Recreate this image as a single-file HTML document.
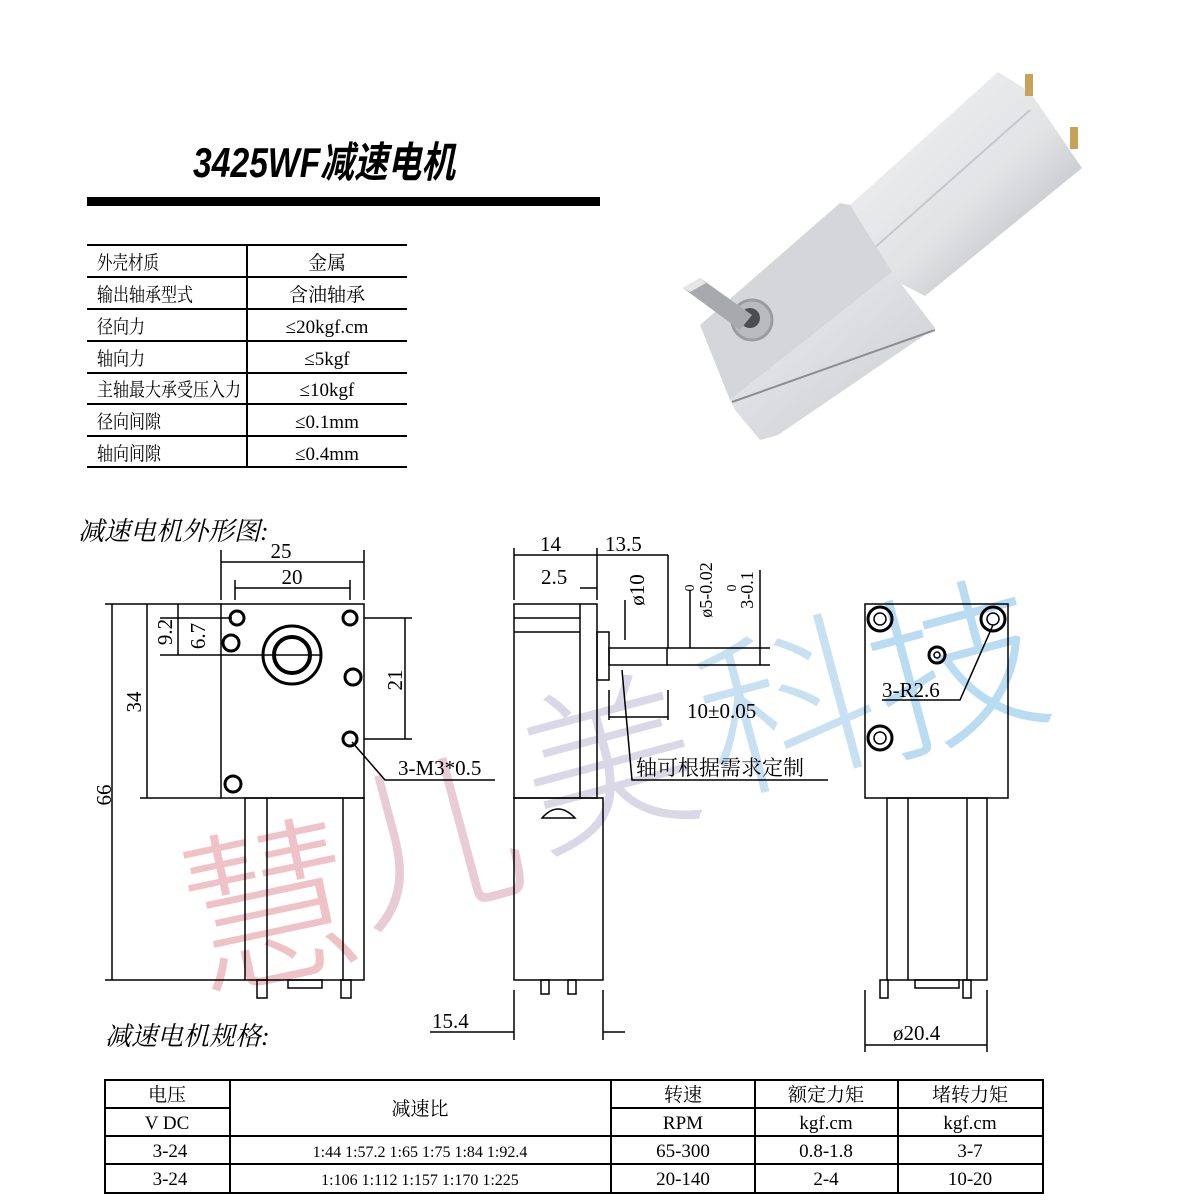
<!DOCTYPE html>
<html><head><meta charset="utf-8"><style>
html,body{margin:0;padding:0;background:#fff;}
body{width:1200px;height:1200px;position:relative;overflow:hidden;font-family:"Liberation Serif","Noto Serif CJK SC",serif;}
</style></head><body>
<svg width="1200" height="1200" viewBox="0 0 1200 1200" style="position:absolute;left:0;top:0" font-family="Liberation Serif, Noto Serif CJK SC, serif">
<defs>
<linearGradient id="cyl" x1="0" y1="0" x2="1" y2="1">
<stop offset="0" stop-color="#f3f3f4"/><stop offset="0.55" stop-color="#e2e3e5"/><stop offset="0.8" stop-color="#c2c4c7"/><stop offset="1" stop-color="#e8e9ea"/>
</linearGradient>
<linearGradient id="side" x1="0" y1="0" x2="1" y2="1">
<stop offset="0" stop-color="#eceef0"/><stop offset="1" stop-color="#c9cbce"/>
</linearGradient>
</defs>
<!-- title -->
<text x="193" y="177" font-size="42" font-style="italic" font-weight="bold" font-family="Liberation Sans Narrow, Liberation Sans, Noto Sans CJK SC, sans-serif" textLength="262" lengthAdjust="spacingAndGlyphs">3425WF减速电机</text>
<rect x="87" y="197" width="513" height="9" fill="#000"/>
<!-- spec table -->
<g stroke="#000" stroke-width="2">
<line x1="87" y1="245" x2="407" y2="245"/><line x1="87" y1="277" x2="407" y2="277"/>
<line x1="87" y1="309" x2="407" y2="309"/><line x1="87" y1="341" x2="407" y2="341"/>
<line x1="87" y1="373" x2="407" y2="373"/><line x1="87" y1="404" x2="407" y2="404"/>
<line x1="87" y1="436" x2="407" y2="436"/><line x1="87" y1="467" x2="407" y2="467"/>
<line x1="247" y1="245" x2="247" y2="467"/>
</g>
<g font-size="19">
<text x="97" y="269" textLength="62" lengthAdjust="spacingAndGlyphs">外壳材质</text>
<text x="97" y="301" textLength="96" lengthAdjust="spacingAndGlyphs">输出轴承型式</text>
<text x="97" y="333" textLength="48" lengthAdjust="spacingAndGlyphs">径向力</text>
<text x="97" y="365" textLength="48" lengthAdjust="spacingAndGlyphs">轴向力</text>
<text x="97" y="396" textLength="144" lengthAdjust="spacingAndGlyphs">主轴最大承受压入力</text>
<text x="97" y="428" textLength="64" lengthAdjust="spacingAndGlyphs">径向间隙</text>
<text x="97" y="460" textLength="64" lengthAdjust="spacingAndGlyphs">轴向间隙</text>
<g text-anchor="middle"><text x="327" y="269">金属</text><text x="327" y="301">含油轴承</text><text x="327" y="333">≤20kgf.cm</text>
<text x="327" y="365">≤5kgf</text><text x="327" y="396">≤10kgf</text><text x="327" y="428">≤0.1mm</text><text x="327" y="460">≤0.4mm</text></g>
</g>
<!-- photo -->
<g>
<polygon points="850,205 998,72 1030,92 1082,168 925,296 870,268" fill="url(#cyl)"/>
<line x1="872" y1="250" x2="1030" y2="110" stroke="#c5c7ca" stroke-width="2"/>
<rect x="1025" y="74" width="8" height="22" fill="#c9a25a"/><rect x="1070" y="127" width="8" height="22" fill="#c9a25a"/>
<polygon points="700,325 840,203 850,205 892,272 730,400" fill="#d4d6d9"/>
<polygon points="730,400 892,272 935,328 778,435 760,440 735,410" fill="url(#side)"/>
<line x1="732" y1="402" x2="935" y2="330" stroke="#8a8d91" stroke-width="2"/>
<circle cx="752" cy="320" r="20" fill="#b9bbbf" stroke="#9a9ca0" stroke-width="3"/>
<circle cx="750" cy="318" r="10" fill="#4b4d50"/>
<polygon points="683,288 700,278 752,315 740,330" fill="#a7a9ad"/>
<polygon points="683,288 700,278 706,283 690,292" fill="#e6e6e6"/>
</g>
<!-- watermark -->
<g opacity="0.6" font-family="Noto Sans CJK SC, sans-serif" font-weight="300" font-size="175">
<text x="180" y="975" fill="#e39aa2" transform="rotate(-12 250 900)">慧</text>
<text x="340" y="905" fill="#d9a9b9" transform="rotate(-15 420 820)">儿</text>
<text x="520" y="830" fill="#c2bcd8" transform="rotate(-15 600 760)">美</text>
<text x="695" y="775" fill="#a2cbe9" transform="rotate(-15 770 690)">科</text>
<text x="865" y="735" fill="#8cc5ec" transform="rotate(-15 940 650)">技</text>
</g>
<text x="78" y="540" font-size="26" font-style="italic">减速电机外形图:</text>
<text x="105" y="1045" font-size="26" font-style="italic">减速电机规格:</text>
<g fill="none" stroke="#000" stroke-width="1.5">
<!-- front view -->
<rect x="221" y="604" width="143" height="194"/>
<rect x="245" y="798" width="119" height="182"/>
<line x1="267" y1="798" x2="267" y2="980"/><line x1="343" y1="798" x2="343" y2="980"/>
<circle cx="292" cy="655" r="29" stroke-width="3"/><circle cx="292" cy="655" r="18" stroke-width="4"/>
<circle cx="237" cy="618" r="7" stroke-width="3"/><circle cx="350" cy="618" r="7" stroke-width="3"/>
<circle cx="231" cy="643" r="8" stroke-width="3"/><circle cx="353" cy="677" r="8" stroke-width="3"/>
<circle cx="350" cy="739" r="7" stroke-width="3"/><circle cx="233" cy="784" r="8" stroke-width="3"/>
<rect x="257" y="980" width="10" height="18"/><rect x="341" y="980" width="10" height="18"/>
<rect x="288" y="980" width="34" height="8"/>
<line x1="221" y1="600" x2="221" y2="550"/><line x1="364" y1="600" x2="364" y2="550"/>
<line x1="221" y1="562" x2="364" y2="562"/>
<line x1="235" y1="600" x2="235" y2="580"/><line x1="350" y1="600" x2="350" y2="580"/>
<line x1="235" y1="588" x2="350" y2="588"/>
<line x1="105" y1="604" x2="221" y2="604"/><line x1="105" y1="980" x2="245" y2="980"/>
<line x1="112" y1="604" x2="112" y2="980"/>
<line x1="140" y1="798" x2="221" y2="798"/><line x1="147" y1="604" x2="147" y2="798"/>
<line x1="160" y1="618" x2="232" y2="618"/><line x1="160" y1="655" x2="320" y2="655"/>
<line x1="178" y1="604" x2="178" y2="655"/>
<line x1="364" y1="618" x2="412" y2="618"/><line x1="364" y1="739" x2="412" y2="739"/>
<line x1="405" y1="618" x2="405" y2="739"/>
<polyline points="352,742 385,780 495,780"/>
<!-- side view -->
<rect x="514" y="604" width="83" height="194"/>
<line x1="514" y1="618" x2="580" y2="618"/><line x1="514" y1="632" x2="580" y2="632"/>
<line x1="580" y1="604" x2="580" y2="798"/>
<rect x="597" y="632" width="12" height="48"/>
<rect x="609" y="648" width="58" height="17"/>
<rect x="514" y="798" width="89" height="182"/>
<path d="M542 818 Q558 800 575 818 Z"/>
<rect x="541" y="980" width="8" height="14"/><rect x="568" y="980" width="8" height="14"/>
<line x1="514" y1="600" x2="514" y2="548"/><line x1="597" y1="600" x2="597" y2="548"/>
<line x1="514" y1="555" x2="668" y2="555"/><line x1="580" y1="588" x2="597" y2="588"/>
<line x1="625" y1="600" x2="625" y2="640"/><line x1="668" y1="555" x2="668" y2="648"/>
<line x1="609" y1="690" x2="609" y2="720"/><line x1="668" y1="690" x2="668" y2="720"/>
<line x1="609" y1="717" x2="668" y2="717"/>
<line x1="690" y1="590" x2="690" y2="648"/><line x1="760" y1="570" x2="760" y2="665"/>
<line x1="667" y1="648" x2="770" y2="648"/><line x1="667" y1="665" x2="770" y2="665"/>
<polyline points="622,670 632,780 828,780"/>
<line x1="514" y1="990" x2="514" y2="1040"/><line x1="603" y1="990" x2="603" y2="1040"/>
<line x1="430" y1="1032" x2="514" y2="1032"/><line x1="603" y1="1032" x2="625" y2="1032"/>
<!-- right view -->
<rect x="865" y="604" width="143" height="194"/>
<rect x="887" y="798" width="100" height="182"/>
<line x1="908" y1="798" x2="908" y2="980"/><line x1="967" y1="798" x2="967" y2="980"/>
<circle cx="880" cy="619" r="12" stroke-width="3"/><circle cx="880" cy="619" r="6"/>
<circle cx="993" cy="619" r="12" stroke-width="3"/><circle cx="993" cy="619" r="6"/>
<circle cx="880" cy="738" r="12" stroke-width="3"/><circle cx="880" cy="738" r="6"/>
<circle cx="937" cy="655" r="8" stroke-width="3"/><circle cx="937" cy="655" r="3"/>
<polyline points="993,625 960,700 882,700"/>
<rect x="880" y="980" width="8" height="18"/><rect x="963" y="980" width="8" height="18"/>
<rect x="915" y="980" width="44" height="8"/>
<line x1="865" y1="990" x2="865" y2="1052"/><line x1="987" y1="990" x2="987" y2="1052"/>
<line x1="865" y1="1045" x2="987" y2="1045"/>
</g>
<g font-size="21">
<text x="281" y="558" text-anchor="middle">25</text><text x="292" y="584" text-anchor="middle">20</text>
<text transform="translate(111,795) rotate(-90)" text-anchor="middle">66</text>
<text transform="translate(141,702) rotate(-90)" text-anchor="middle">34</text>
<text transform="translate(172,632) rotate(-90)" text-anchor="middle">9.2</text>
<text transform="translate(205,636) rotate(-90)" text-anchor="middle">6.7</text>
<text transform="translate(402,680) rotate(-90)" text-anchor="middle">21</text>
<text x="398" y="775">3-M3*0.5</text>
<text x="540" y="551">14</text><text x="605" y="551">13.5</text><text x="541" y="584">2.5</text>
<text transform="translate(644,590) rotate(-90)" text-anchor="middle">ø10</text>
<text transform="translate(712,590) rotate(-90)" text-anchor="middle" font-size="18">ø5-0.02</text>
<text transform="translate(694,588) rotate(-90)" text-anchor="middle" font-size="14">0</text>
<text transform="translate(753,590) rotate(-90)" text-anchor="middle" font-size="18">3-0.1</text>
<text transform="translate(736,588) rotate(-90)" text-anchor="middle" font-size="14">0</text>
<text x="687" y="718">10±0.05</text>
<text x="636" y="775">轴可根据需求定制</text>
<text x="882" y="697">3-R2.6</text>
<text x="432" y="1028">15.4</text>
<text x="893" y="1040">ø20.4</text>
</g>
<!-- bottom table -->
<g stroke="#000" stroke-width="2" fill="none">
<rect x="105" y="1080" width="938" height="113"/>
<line x1="105" y1="1108" x2="230" y2="1108"/><line x1="611" y1="1108" x2="1043" y2="1108"/>
<line x1="105" y1="1136" x2="1043" y2="1136"/><line x1="105" y1="1164" x2="1043" y2="1164"/>
<line x1="230" y1="1080" x2="230" y2="1193"/><line x1="611" y1="1080" x2="611" y2="1193"/>
<line x1="755" y1="1080" x2="755" y2="1193"/><line x1="898" y1="1080" x2="898" y2="1193"/>
</g>
<g font-size="19" text-anchor="middle">
<text x="167" y="1101">电压</text><text x="167" y="1129">V DC</text><text x="420" y="1115">减速比</text>
<text x="683" y="1101">转速</text><text x="683" y="1129">RPM</text>
<text x="826" y="1101">额定力矩</text><text x="826" y="1129">kgf.cm</text>
<text x="970" y="1101">堵转力矩</text><text x="970" y="1129">kgf.cm</text>
<text x="170" y="1157">3-24</text><text x="420" y="1157" font-size="16">1:44 1:57.2 1:65 1:75 1:84 1:92.4</text>
<text x="683" y="1157">65-300</text><text x="826" y="1157">0.8-1.8</text><text x="970" y="1157">3-7</text>
<text x="170" y="1185">3-24</text><text x="420" y="1185" font-size="16">1:106 1:112 1:157 1:170 1:225</text>
<text x="683" y="1185">20-140</text><text x="826" y="1185">2-4</text><text x="970" y="1185">10-20</text>
</g>
</svg>
</body></html>
